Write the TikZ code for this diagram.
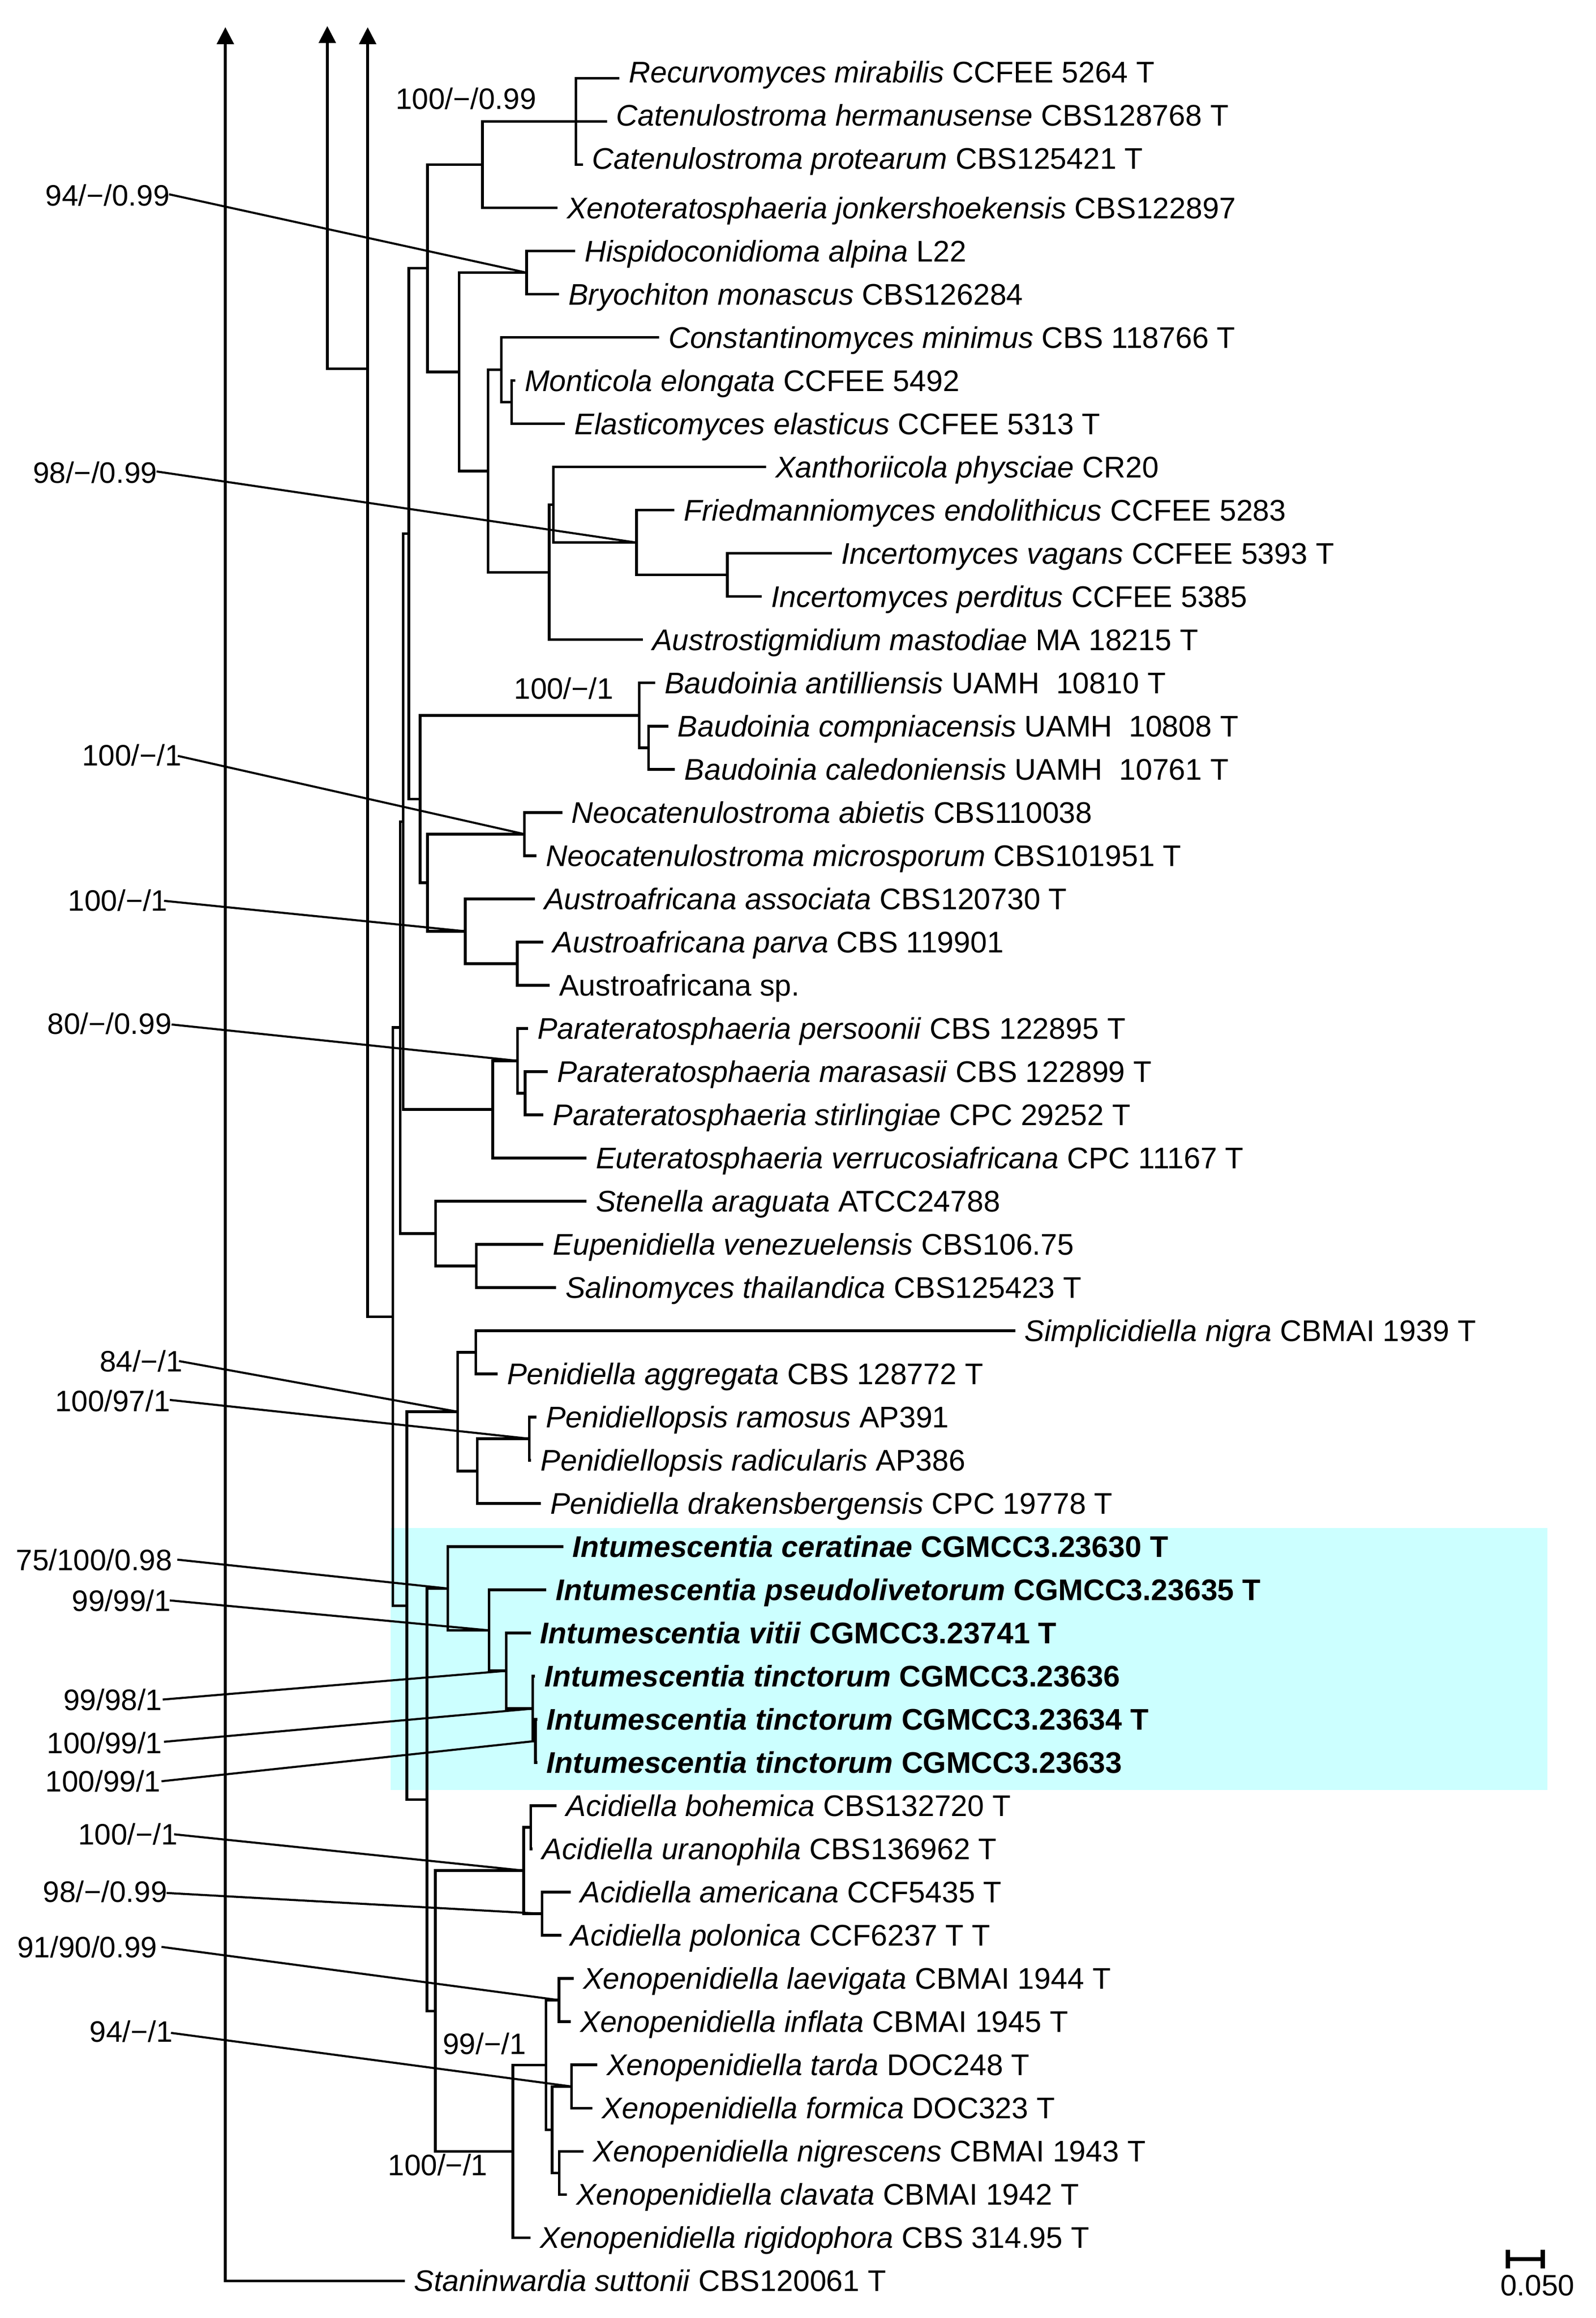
\documentclass[tikz,border=0pt]{standalone}
\usepackage{fontspec}
\setmainfont{Liberation Sans}
\usetikzlibrary{arrows.meta}
\definecolor{hlcyan}{RGB}{204,255,255}
\newcommand\rowy[1]{53+29.23*#1}
\newcommand\mytip[4]{\coordinate (#1) at (#2,{\rowy{#3}}); \node[tiplab] (l#1) at (#1) {#4};}
\newcommand\mytipup[4]{\coordinate (#1) at (#2,{\rowy{#3}}); \node[tiplab,yshift=2.2pt] (l#1) at (#1) {#4};}
\newcommand\suplabel[6]{\coordinate (s#1) at (#2,#3); \node[suplab] (lab#1) at (#4,#5) {#6};}
\begin{document}
\begin{tikzpicture}[x=0.5pt,y=-0.5pt,
  br/.style={line width=0.9pt},
  supl/.style={line width=0.7pt},
  tiplab/.style={anchor=base west, inner sep=0pt, xshift=3pt, yshift=-3.6pt, font=\fontsize{10.1}{12}\selectfont},
  suplab/.style={anchor=base east, inner sep=0pt, yshift=-3.6pt, font=\fontsize{10}{12}\selectfont},
  inlab/.style={anchor=base west, inner sep=0pt, yshift=-3.6pt, font=\fontsize{10}{12}\selectfont},
  arr/.style={br, -{Triangle[length=5.75pt,width=5.7pt]}}
]
\useasboundingbox (0,0) rectangle (1080,1568.9);
% highlight box
\fill[hlcyan] (264.5,1034.2) rectangle (1047,1211.6);

% ---------------- tips ----------------
\mytipup{t0}{419.2}{0}{\textit{Recurvomyces mirabilis} CCFEE 5264 T}
\mytipup{t1}{410.7}{1}{\textit{Catenulostroma hermanusense} CBS128768 T}
\mytipup{t2}{394.4}{2}{\textit{Catenulostroma protearum} CBS125421 T}
\mytip{t3}{377.3}{3}{\textit{Xenoteratosphaeria jonkershoekensis} CBS122897}
\mytip{t4}{389.3}{4}{\textit{Hispidoconidioma alpina} L22}
\mytip{t5}{378.3}{5}{\textit{Bryochiton monascus} CBS126284}
\mytip{t6}{446}{6}{\textit{Constantinomyces minimus} CBS 118766 T}
\mytip{t7}{348.7}{7}{\textit{Monticola elongata} CCFEE 5492}
\mytip{t8}{382.4}{8}{\textit{Elasticomyces elasticus} CCFEE 5313 T}
\mytip{t9}{518.4}{9}{\textit{Xanthoriicola physciae} CR20}
\mytip{t10}{456.4}{10}{\textit{Friedmanniomyces endolithicus} CCFEE 5283}
\mytip{t11}{563}{11}{\textit{Incertomyces vagans} CCFEE 5393 T}
\mytip{t12}{515.5}{12}{\textit{Incertomyces perditus} CCFEE 5385}
\mytip{t13}{435.1}{13}{\textit{Austrostigmidium mastodiae} MA 18215 T}
\mytip{t14}{443.4}{14}{\textit{Baudoinia antilliensis} UAMH\ \ 10810 T}
\mytip{t15}{452.2}{15}{\textit{Baudoinia compniacensis} UAMH\ \ 10808 T}
\mytip{t16}{456.8}{16}{\textit{Baudoinia caledoniensis} UAMH\ \ 10761 T}
\mytip{t17}{380.5}{17}{\textit{Neocatenulostroma abietis} CBS110038}
\mytip{t18}{363}{18}{\textit{Neocatenulostroma microsporum} CBS101951 T}
\mytip{t19}{362}{19}{\textit{Austroafricana associata} CBS120730 T}
\mytip{t20}{367.8}{20}{\textit{Austroafricana parva} CBS 119901}
\mytip{t21}{372}{21}{Austroafricana sp.}
\mytip{t22}{357.3}{22}{\textit{Parateratosphaeria persoonii} CBS 122895 T}
\mytip{t23}{370.6}{23}{\textit{Parateratosphaeria marasasii} CBS 122899 T}
\mytip{t24}{367.8}{24}{\textit{Parateratosphaeria stirlingiae} CPC 29252 T}
\mytip{t25}{396.9}{25}{\textit{Euteratosphaeria verrucosiafricana} CPC 11167 T}
\mytip{t26}{396.9}{26}{\textit{Stenella araguata} ATCC24788}
\mytip{t27}{367.8}{27}{\textit{Eupenidiella venezuelensis} CBS106.75}
\mytip{t28}{376.3}{28}{\textit{Salinomyces thailandica} CBS125423 T}
\mytip{t29}{687}{29}{\textit{Simplicidiella nigra} CBMAI 1939 T}
\mytip{t30}{336.7}{30}{\textit{Penidiella aggregata} CBS 128772 T}
\mytip{t31}{363}{31}{\textit{Penidiellopsis ramosus} AP391}
\mytip{t32}{359.5}{32}{\textit{Penidiellopsis radicularis} AP386}
\mytip{t33}{365.9}{33}{\textit{Penidiella drakensbergensis} CPC 19778 T}
\mytip{t34}{381.1}{34}{\bfseries\textit{Intumescentia ceratinae} CGMCC3.23630 T}
\mytip{t35}{369.7}{35}{\bfseries\textit{Intumescentia pseudolivetorum} CGMCC3.23635 T}
\mytip{t36}{359.2}{36}{\bfseries\textit{Intumescentia vitii} CGMCC3.23741 T}
\mytip{t37}{362}{37}{\bfseries\textit{Intumescentia tinctorum} CGMCC3.23636}
\mytip{t38}{363.5}{38}{\bfseries\textit{Intumescentia tinctorum} CGMCC3.23634 T}
\mytip{t39}{363.5}{39}{\bfseries\textit{Intumescentia tinctorum} CGMCC3.23633}
\mytip{t40}{376.7}{40}{\textit{Acidiella bohemica} CBS132720 T}
\mytip{t41}{360.5}{41}{\textit{Acidiella uranophila} CBS136962 T}
\mytip{t42}{386.3}{42}{\textit{Acidiella americana} CCF5435 T}
\mytip{t43}{379.8}{43}{\textit{Acidiella polonica} CCF6237 T T}
\mytip{t44}{388.2}{44}{\textit{Xenopenidiella laevigata} CBMAI 1944 T}
\mytip{t45}{386.3}{45}{\textit{Xenopenidiella inflata} CBMAI 1945 T}
\mytip{t46}{404.1}{46}{\textit{Xenopenidiella tarda} DOC248 T}
\mytip{t47}{401}{47}{\textit{Xenopenidiella formica} DOC323 T}
\mytip{t48}{395}{48}{\textit{Xenopenidiella nigrescens} CBMAI 1943 T}
\mytip{t49}{383.5}{49}{\textit{Xenopenidiella clavata} CBMAI 1942 T}
\mytip{t50}{359.1}{50}{\textit{Xenopenidiella rigidophora} CBS 314.95 T}
\mytip{t51}{273.9}{51}{\textit{Staninwardia suttonii} CBS120061 T}

% ---------------- internal nodes ----------------
\coordinate (nCat) at (389.7,82.23);
\coordinate (nCatX) at (326.4,111.46);
\coordinate (nHis) at (356.3,184.54);
\coordinate (nEla) at (346.2,272.23);
\coordinate (nCon) at (339.2,250.31);
\coordinate (nInc) at (492.2,389.15);
\coordinate (nFri) at (430.7,367.23);
\coordinate (nXan) at (374.4,341.65);
\coordinate (nAus) at (371.6,387.32);
\coordinate (nBig) at (330.2,318.82);
\coordinate (nN310) at (310.6,251.68);
\coordinate (nN289) at (289.2,181.57);
\coordinate (nBau2) at (438.9,506.07);
\coordinate (nBau) at (432.6,484.15);
\coordinate (nNeo) at (354.8,564.53);
\coordinate (nAaf2) at (350,652.22);
\coordinate (nAaf) at (314.8,630.3);
\coordinate (nN289b) at (289.2,597.42);
\coordinate (nN284) at (284.3,540.79);
\coordinate (nN276) at (276.7,361.18);
\coordinate (nPar2) at (355.4,739.91);
\coordinate (nPar) at (350.2,717.99);
\coordinate (nEut) at (333.5,750.87);
\coordinate (nN272) at (272.8,556.03);
\coordinate (nEup) at (322.4,856.83);
\coordinate (nSte) at (294.8,834.91);
\coordinate (nN270) at (270.9,695.47);
\coordinate (nSim) at (322,915.29);
\coordinate (nRam) at (358.2,973.75);
\coordinate (nDra) at (323,995.67);
\coordinate (nPen) at (309.6,955.48);
\coordinate (nTin2) at (362.4,1178.36);
\coordinate (nTin) at (360.5,1156.44);
\coordinate (nVit) at (342.6,1130.86);
\coordinate (nPse) at (331,1103.46);
\coordinate (nCer) at (303,1075.14);
\coordinate (nBoh) at (359.2,1236.82);
\coordinate (nAme) at (366.8,1295.28);
\coordinate (nAci) at (354.4,1266.05);
\coordinate (nLae) at (378.3,1353.74);
\coordinate (nTar) at (386.8,1412.2);
\coordinate (nNig) at (378.4,1470.66);
\coordinate (nTN) at (373.6,1441.43);
\coordinate (nXL) at (369.5,1397.59);
\coordinate (nXen) at (347,1456.05);
\coordinate (nN294) at (294.6,1361.05);
\coordinate (nMid) at (289,1218.1);
\coordinate (nN275) at (275.3,1086.79);
\coordinate (nN265) at (265.8,891.13);

% arrow coordinates
\coordinate (a1t) at (152.5,18.4);
\coordinate (a2b) at (221.5,249.6);
\coordinate (a2j) at (248.8,249.6);
\coordinate (a2t) at (221.5,17.6);
\coordinate (a3b) at (248.8,891.13);
\coordinate (a3t) at (248.8,18.4);

% ---------------- branches ----------------
\draw[br] (nCat) |- (t0) (nCat) |- (t1) (nCat) |- (t2)
  (nCatX) |- (nCat) (nCatX) |- (t3)
  (nHis) |- (t4) (nHis) |- (t5)
  (nEla) |- (t7) (nEla) |- (t8)
  (nCon) |- (t6) (nCon) |- (nEla)
  (nInc) |- (t11) (nInc) |- (t12)
  (nFri) |- (t10) (nFri) |- (nInc)
  (nXan) |- (t9) (nXan) |- (nFri)
  (nAus) |- (nXan) (nAus) |- (t13)
  (nBig) |- (nCon) (nBig) |- (nAus)
  (nN310) |- (nHis) (nN310) |- (nBig)
  (nN289) |- (nCatX) (nN289) |- (nN310)
  (nBau2) |- (t15) (nBau2) |- (t16)
  (nBau) |- (t14) (nBau) |- (nBau2)
  (nNeo) |- (t17) (nNeo) |- (t18)
  (nAaf2) |- (t20) (nAaf2) |- (t21)
  (nAaf) |- (t19) (nAaf) |- (nAaf2)
  (nN289b) |- (nNeo) (nN289b) |- (nAaf)
  (nN284) |- (nBau) (nN284) |- (nN289b)
  (nN276) |- (nN289) (nN276) |- (nN284)
  (nPar2) |- (t23) (nPar2) |- (t24)
  (nPar) |- (t22) (nPar) |- (nPar2)
  (nEut) |- (nPar) (nEut) |- (t25)
  (nN272) |- (nN276) (nN272) |- (nEut)
  (nEup) |- (t27) (nEup) |- (t28)
  (nSte) |- (t26) (nSte) |- (nEup)
  (nN270) |- (nN272) (nN270) |- (nSte)
  (nSim) |- (t29) (nSim) |- (t30)
  (nRam) |- (t31) (nRam) |- (t32)
  (nDra) |- (nRam) (nDra) |- (t33)
  (nPen) |- (nSim) (nPen) |- (nDra)
  (nTin2) |- (t38) (nTin2) |- (t39)
  (nTin) |- (t37) (nTin) |- (nTin2)
  (nVit) |- (t36) (nVit) |- (nTin)
  (nPse) |- (t35) (nPse) |- (nVit)
  (nCer) |- (t34) (nCer) |- (nPse)
  (nBoh) |- (t40) (nBoh) |- (t41)
  (nAme) |- (t42) (nAme) |- (t43)
  (nAci) |- (nBoh) (nAci) |- (nAme)
  (nLae) |- (t44) (nLae) |- (t45)
  (nTar) |- (t46) (nTar) |- (t47)
  (nNig) |- (t48) (nNig) |- (t49)
  (nTN) |- (nTar) (nTN) |- (nNig)
  (nXL) |- (nLae) (nXL) |- (nTN)
  (nXen) |- (nXL) (nXen) |- (t50)
  (nN294) |- (nAci) (nN294) |- (nXen)
  (nMid) |- (nCer) (nMid) |- (nN294)
  (nN275) |- (nPen) (nN275) |- (nMid)
  (nN265) |- (nN270) (nN265) |- (nN275);

% arrows
\draw[arr] (t51) -| (a1t);
\draw[arr] (a2j) -- (a2b) -- (a2t);
\draw[arr] (nN265) -- (a3b) -- (a3t);

% ---------------- support labels ----------------
\suplabel{1}{114.4}{131.5}{115.2}{132.2}{94/−/0.99}
\suplabel{2}{105.9}{319.1}{106.7}{319.7}{98/−/0.99}
\suplabel{3}{120.3}{511.6}{123.2}{511}{100/−/1}
\suplabel{4}{111}{609.7}{113.8}{609.4}{100/−/1}
\suplabel{5}{116.1}{693.4}{116.5}{692.8}{80/−/0.99}
\suplabel{6}{121.1}{921.2}{124}{921.2}{84/−/1}
\suplabel{7}{114.9}{947.5}{115.5}{948.2}{100/97/1}
\suplabel{8}{120}{1055.6}{116.9}{1055.6}{75/100/0.98}
\suplabel{9}{114.9}{1083.2}{115.9}{1083.2}{99/99/1}
\suplabel{10}{110.1}{1150.3}{110.1}{1150.3}{99/98/1}
\suplabel{11}{111}{1178.9}{110.1}{1179.5}{100/99/1}
\suplabel{12}{109.3}{1205.6}{109.1}{1205.6}{100/99/1}
\suplabel{13}{117.8}{1241.5}{120.6}{1241.5}{100/−/1}
\suplabel{14}{112.7}{1281.2}{113.5}{1280.2}{98/−/0.99}
\suplabel{15}{109.3}{1317.7}{106.7}{1317.7}{91/90/0.99}
\suplabel{16}{115.7}{1375.9}{117.2}{1374.9}{94/−/1}

\draw[supl] (s1) -- (nHis) (s2) -- (nFri) (s3) -- (nNeo) (s4) -- (nAaf)
  (s5) -- (nPar) (s6) -- (nPen) (s7) -- (nRam) (s8) -- (nCer)
  (s9) -- (nPse) (s10) -- (nVit) (s11) -- (nTin) (s12) -- (nTin2)
  (s13) -- (nAci) (s14) -- (nAme) (s15) -- (nLae) (s16) -- (nTar);

% labels placed on the tree
\node[inlab] (in1) at (267.4,66.7) {100/−/0.99};
\node[inlab] (in2) at (347.5,466) {100/−/1};
\node[inlab] (in3) at (299.3,1383.2) {99/−/1};
\node[inlab] (in4) at (262.2,1465.2) {100/−/1};

% scale bar
\coordinate (sbL) at (1020.4,1529);
\coordinate (sbR) at (1044,1529);
\draw[line width=1.4pt] (sbL) -- (sbR)
  ([yshift=3.2pt]sbL) -- ([yshift=-3.2pt]sbL)
  ([yshift=3.2pt]sbR) -- ([yshift=-3.2pt]sbR);
\node[inlab] (sbt) at (1015,1546.6) {0.050};
\end{tikzpicture}
\end{document}
